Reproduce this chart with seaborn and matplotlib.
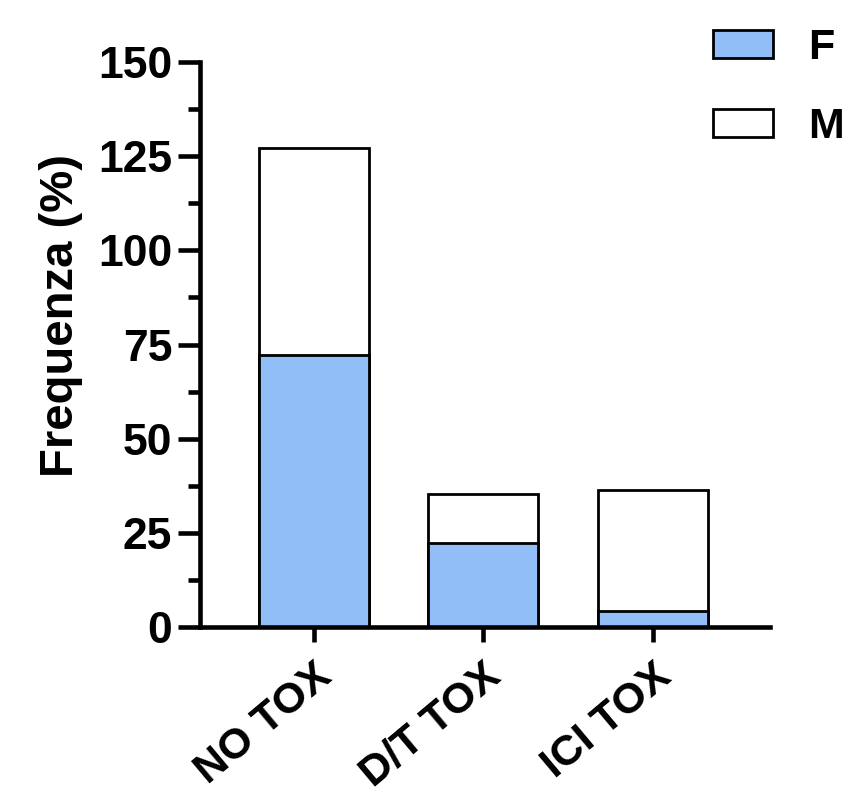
import matplotlib
matplotlib.use("Agg")
import matplotlib.pyplot as plt
import seaborn as sns
import pandas as pd
from matplotlib.patches import Patch
from matplotlib.ticker import MultipleLocator

categories = ["NO TOX", "D/T TOX", "ICI TOX"]
female = [72.2, 22.2, 4.2]
male = [55.0, 13.2, 32.2]
y_ticks = [0, 25, 50, 75, 100, 125, 150]
series_labels = ["F", "M"]

blue = "#92BEF7"

sns.set_theme(style="ticks")
plt.rcParams["font.family"] = ["Liberation Sans", "DejaVu Sans"]
plt.rcParams["font.weight"] = "bold"
for k in ["text.color", "axes.labelcolor", "xtick.color", "ytick.color", "axes.edgecolor"]:
    plt.rcParams[k] = "black"

df = pd.DataFrame({"cat": categories, "F": female, "M": male})
df["total"] = df["F"] + df["M"]

fig = plt.figure(figsize=(8.43, 8.01), dpi=100)
ax = fig.add_axes([200 / 843, 174 / 801, 570 / 843, 565 / 801])

sns.barplot(data=df, x="cat", y="total", color="white", edgecolor="black",
            linewidth=2.0, width=0.65, ax=ax, saturation=1)
sns.barplot(data=df, x="cat", y="F", color=blue, edgecolor="black",
            linewidth=2.0, width=0.65, ax=ax, saturation=1)

ax.set_xlim(-0.67, 2.69)
ax.set_ylim(0, 150)
ax.set_yticks(y_ticks)
ax.yaxis.set_minor_locator(MultipleLocator(12.5))
ax.set_yticklabels([str(t) for t in y_ticks], fontsize=32, fontweight="bold")
ax.set_xticks(range(len(categories)))
ax.set_xticklabels(categories, rotation=40, ha="right", rotation_mode="anchor",
                   fontsize=31, fontweight="bold")
ax.set_xlabel("")
ax.set_ylabel("Frequenza (%)", fontsize=34, fontweight="bold")
ax.yaxis.set_label_coords(-0.205, 0.552)

for side in ["top", "right"]:
    ax.spines[side].set_visible(False)
for side in ["left", "bottom"]:
    ax.spines[side].set_linewidth(3.3)
    ax.spines[side].set_color("black")

ax.tick_params(axis="y", which="major", length=16, width=3.3, pad=4)
ax.tick_params(axis="y", which="minor", length=9, width=3.3)
ax.tick_params(axis="x", which="major", length=11, width=3.3, pad=10)

handles = [Patch(facecolor=blue, edgecolor="black", linewidth=2.0),
           Patch(facecolor="white", edgecolor="black", linewidth=2.0)]
fig.legend(handles, series_labels, loc="upper left",
           bbox_to_anchor=(713 / 843, 1 - 28 / 801), frameon=False,
           prop={"weight": "bold", "size": 31},
           handlelength=1.4, handleheight=0.65, handletextpad=0.8,
           labelspacing=0.91, borderpad=0, borderaxespad=0)

fig.savefig("out.png", dpi=100)
